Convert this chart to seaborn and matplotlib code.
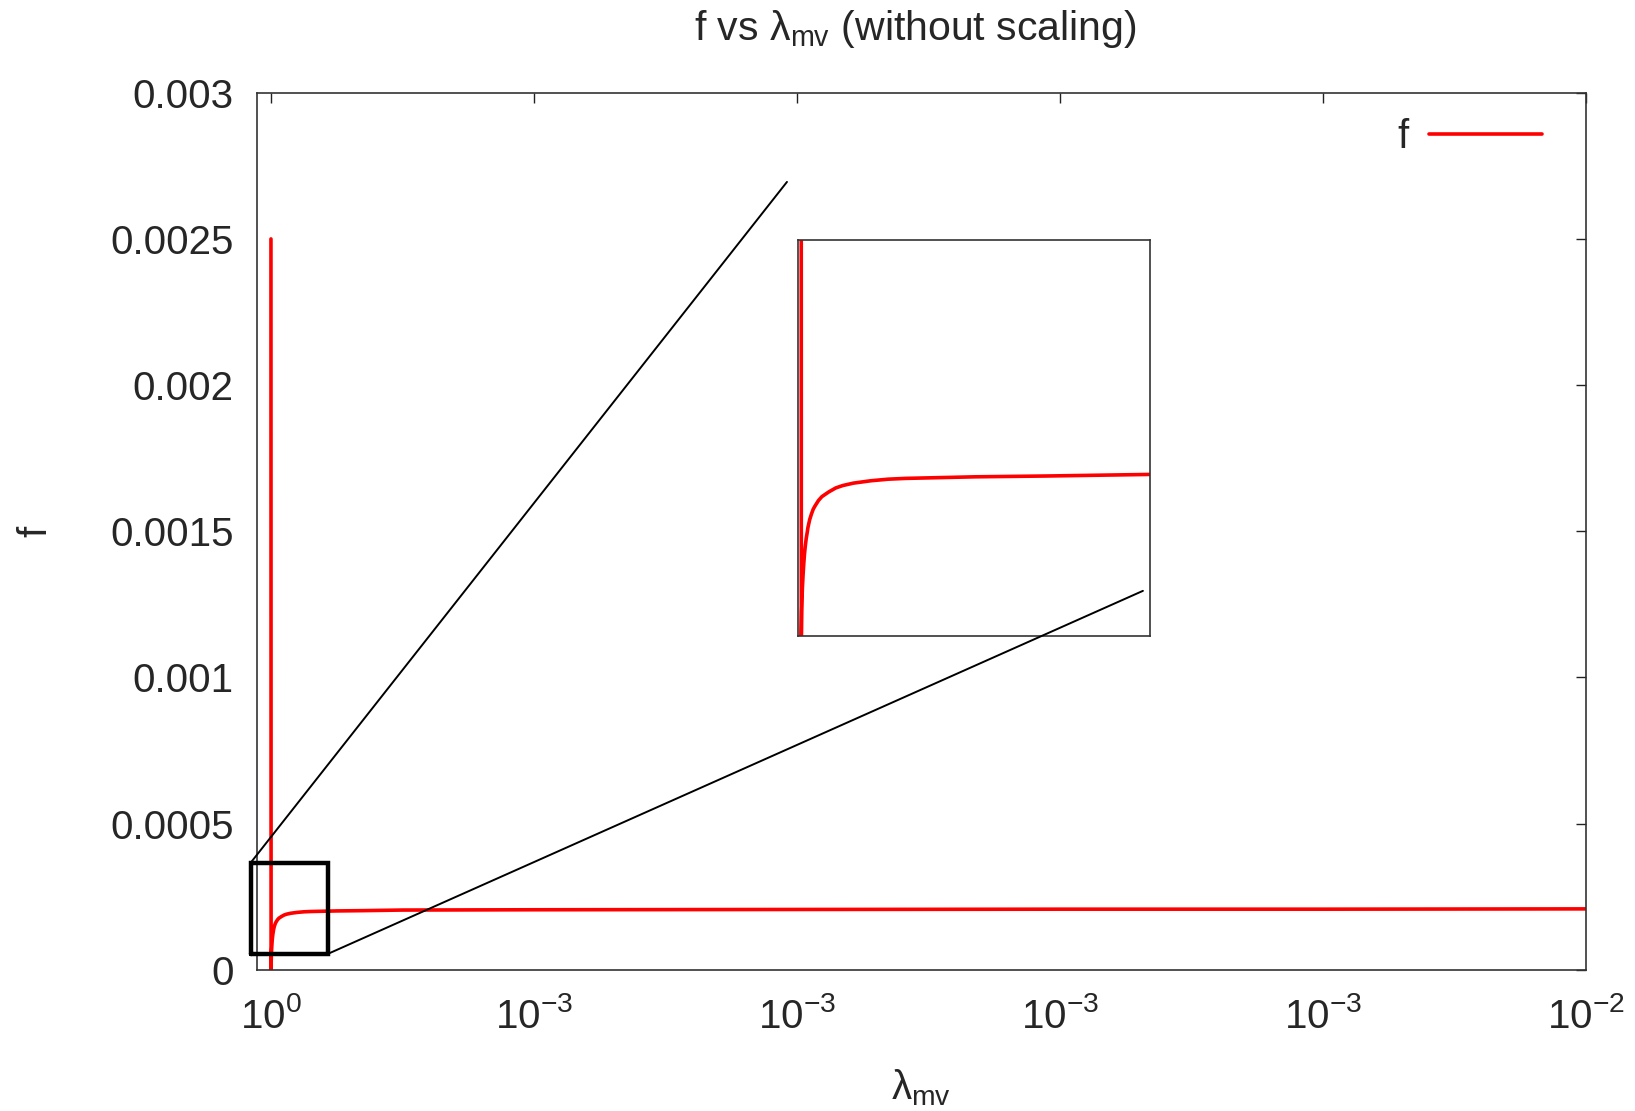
import numpy as np
import pandas as pd
import matplotlib
matplotlib.use("Agg")
import matplotlib.pyplot as plt
import seaborn as sns

# ---- data ----
lam = [0.0, 0.000001, 0.000002, 0.000003, 0.000004, 0.000006, 0.000008, 0.00001,
       0.000012, 0.000015, 0.000018, 0.00002, 0.000025, 0.00003, 0.000035, 0.00004,
       0.00005, 0.00006, 0.00007, 0.00008, 0.0001, 0.00012, 0.00015, 0.0002,
       0.00025, 0.0003, 0.0004, 0.0005, 0.0007, 0.001, 0.002, 0.004, 0.006,
       0.008, 0.01]
f_vals = [0.0025, 0.0, 0.000031, 0.000047, 0.000060, 0.000077, 0.000091, 0.000103,
          0.000112, 0.000123, 0.000131, 0.000137, 0.000147, 0.000154, 0.000160, 0.000164,
          0.000171, 0.000176, 0.000179, 0.000182, 0.000187, 0.000190, 0.000193, 0.000196,
          0.000198, 0.000199, 0.000200, 0.000201, 0.000202, 0.000204, 0.000205, 0.000206,
          0.000207, 0.000207, 0.000208]

x_ticks = [0.0, 0.002, 0.004, 0.006, 0.008, 0.01]
x_tick_labels = ["10$^{0}$", "10$^{-3}$", "10$^{-3}$", "10$^{-3}$", "10$^{-3}$", "10$^{-2}$"]
y_ticks = [0.0, 0.0005, 0.001, 0.0015, 0.002, 0.0025, 0.003]
y_tick_labels = ["0", "0.0005", "0.001", "0.0015", "0.002", "0.0025", "0.003"]

# zoom box (data coords) and connector end points
zoom_box = [-0.000154, 0.0000537, 0.000431, 0.000366]   # x0, y0, x1, y1
connector_ends = [(0.003924, 0.002695), (0.006631, 0.001296)]

df = pd.DataFrame({"lam": lam, "f": f_vals})

sns.set_style("white")
plt.rcParams["font.family"] = ["Liberation Sans", "DejaVu Sans"]
plt.rcParams["mathtext.fontset"] = "custom"
plt.rcParams["mathtext.rm"] = "Liberation Sans"
plt.rcParams["mathtext.it"] = "Liberation Sans"
plt.rcParams["mathtext.default"] = "regular"

FS = 29
fig = plt.figure(figsize=(16.35, 11.11), dpi=100)
ax = fig.add_axes([0.1572, 0.1272, 0.9700 - 0.1572, 0.9165 - 0.1272])

sns.lineplot(data=df, x="lam", y="f", sort=False, estimator=None, color="#ff0000",
             linewidth=2.6, ax=ax, label="f")

ax.set_xlim(-0.000106, 0.01)
ax.set_ylim(0, 0.003)
ax.set_xticks(x_ticks)
ax.set_xticklabels(x_tick_labels)
ax.set_yticks(y_ticks)
ax.set_yticklabels(y_tick_labels)
ax.tick_params(axis="both", direction="in", length=7.5, width=1.0, labelsize=FS,
               top=True, right=True, color="#222222")
ax.tick_params(axis="x", pad=20)
ax.tick_params(axis="y", pad=17)
for s in ax.spines.values():
    s.set_linewidth(1.2)
    s.set_color("#333333")

ax.set_xlabel("λ$_{\\mathrm{mv}}$", fontsize=FS, labelpad=22)
ax.set_ylabel("f", fontsize=FS, labelpad=40)
title = ax.set_title("f vs λ$_{\\mathrm{mv}}$ (without scaling)", fontsize=FS + 0.5, pad=38)
title.set_x(0.495)

leg = ax.legend(loc="center right", bbox_to_anchor=(0.979, 0.949), frameon=False,
                fontsize=FS, markerfirst=False, handlelength=2.8, handletextpad=0.5,
                borderaxespad=0.0)

# zoom rectangle
x0, y0, x1, y1 = zoom_box
ax.plot([x0, x1, x1, x0, x0], [y0, y0, y1, y1, y0], color="black", lw=3.2,
        solid_joinstyle="miter", clip_on=False, zorder=5)

# inset
ins = fig.add_axes([798 / 1635, 1 - 636 / 1111, 352 / 1635, 396 / 1111])
ins.set_zorder(ax.get_zorder() + 1)
sns.lineplot(data=df, x="lam", y="f", sort=False, estimator=None, color="#ff0000",
             linewidth=2.6, ax=ins, legend=False)
ins.set_xlim(-0.0000085, 0.001)
ins.set_ylim(0, 0.0005)
ins.set_xticks([])
ins.set_yticks([])
ins.set_xlabel("")
ins.set_ylabel("")
ins.patch.set_alpha(0.0)
for s in ins.spines.values():
    s.set_linewidth(1.2)
    s.set_color("#333333")

# connector lines drawn on top of everything
for (cx, cy), (ex, ey) in zip([(x0, y1), (x1, y0)], connector_ends):
    ins.plot([cx, ex], [cy, ey], color="black", lw=1.4, transform=ax.transData,
             clip_on=False, zorder=10)

fig.savefig("out.png", dpi=100)
